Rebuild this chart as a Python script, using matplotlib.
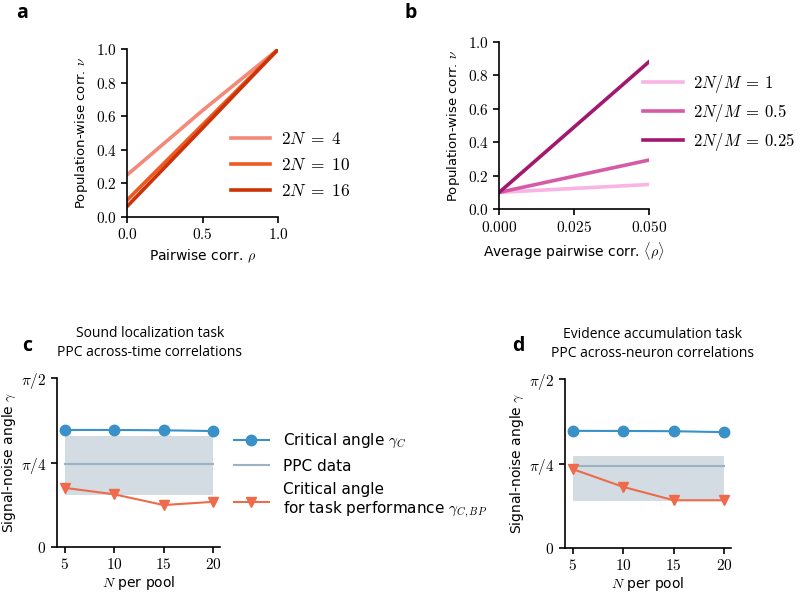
import numpy as np
import matplotlib
matplotlib.use("Agg")
import matplotlib.pyplot as plt

plt.rcParams["mathtext.fontset"] = "cm"
plt.rcParams["font.family"] = ["DejaVu Sans"]
plt.rcParams["axes.linewidth"] = 1.2

# panel a: population-wise vs pairwise correlation
rho_a = [0.0, 0.5, 1.0]
nu_2n4 = [0.25, 0.635, 1.0]
nu_2n10 = [0.10, 0.55, 1.0]
nu_2n16 = [0.0625, 0.53, 1.0]
labels_a = [r"$2N\;=\;4$", r"$2N\;=\;10$", r"$2N\;=\;16$"]
colors_a = ["#f4897a", "#ee5a24", "#cc3306"]

# panel b
rho_b = [0.0, 0.05]
nu_m1 = [0.10, 0.147]
nu_m05 = [0.10, 0.293]
nu_m025 = [0.10, 0.88]
labels_b = [r"$2N/M\:=\:1$", r"$2N/M\:=\:0.5$", r"$2N/M\:=\:0.25$"]
colors_b = ["#f8b4e4", "#d65aa6", "#a2186e"]

# panels c, d
n_pool = [5, 10, 15, 20]
crit_c = [1.088, 1.088, 1.085, 1.078]
task_c = [0.55, 0.49, 0.39, 0.42]
ppc_c, ppc_c_lo, ppc_c_hi = 0.769, 0.483, 1.032
crit_d = [1.089, 1.088, 1.086, 1.077]
task_d = [0.733, 0.568, 0.444, 0.444]
ppc_d, ppc_d_lo, ppc_d_hi = 0.763, 0.435, 0.854

blue = "#3a91c8"
grey = "#9eb2c4"
band = "#d2dce2"
orange = "#ee6a4a"

fig = plt.figure(figsize=(8, 5.94), dpi=100)


def style(ax):
    ax.spines["top"].set_visible(False)
    ax.spines["right"].set_visible(False)
    ax.tick_params(direction="out", length=4, width=1.2, labelsize=11)


lab_font = 10

# ---- a ----
ax1 = fig.add_axes([0.159, 0.635, 0.189, 0.2825])
for y, lab, c in zip([nu_2n4, nu_2n10, nu_2n16], labels_a, colors_a):
    ax1.plot(rho_a, y, color=c, lw=2.6, label=lab)
ax1.set_xlim(0, 1)
ax1.set_ylim(0, 1)
ax1.set_xticks([0, 0.5, 1.0])
ax1.set_xticklabels([r"$0.0$", r"$0.5$", r"$1.0$"])
ax1.set_yticks([0, 0.2, 0.4, 0.6, 0.8, 1.0])
ax1.set_yticklabels([r"$%.1f$" % v for v in [0, 0.2, 0.4, 0.6, 0.8, 1.0]])
ax1.set_xlabel(r"Pairwise corr. $\rho$", fontsize=lab_font)
ax1.set_ylabel(r"Population-wise corr. $\nu$", fontsize=9.5)
style(ax1)
ax1.legend(loc="center left", bbox_to_anchor=(0.58, 0.31), frameon=False,
           fontsize=12.5, handlelength=2.3, handletextpad=0.6, labelspacing=0.45)

# ---- b ----
ax2 = fig.add_axes([0.624, 0.648, 0.187, 0.2815])
for y, lab, c in zip([nu_m1, nu_m05, nu_m025], labels_b, colors_b):
    ax2.plot(rho_b, y, color=c, lw=2.6, label=lab)
ax2.set_xlim(0, 0.05)
ax2.set_ylim(0, 1)
ax2.set_xticks([0, 0.025, 0.05])
ax2.set_xticklabels([r"$0.000$", r"$0.025$", r"$0.050$"])
ax2.set_yticks([0, 0.2, 0.4, 0.6, 0.8, 1.0])
ax2.set_yticklabels([r"$%.1f$" % v for v in [0, 0.2, 0.4, 0.6, 0.8, 1.0]])
ax2.set_xlabel(r"Average pairwise corr. $\langle\rho\rangle$", fontsize=lab_font)
ax2.set_ylabel(r"Population-wise corr. $\nu$", fontsize=9.5)
style(ax2)
ax2.legend(loc="center left", bbox_to_anchor=(0.86, 0.575), frameon=False,
           fontsize=12, handlelength=2.4, handletextpad=0.6, labelspacing=0.42)


# ---- c, d ----
def angle_panel(ax, crit, task, ppc, lo, hi):
    ax.fill_between([n_pool[0], n_pool[-1]], lo, hi, color=band, lw=0)
    ax.plot(n_pool, crit, color=blue, marker="o", ms=7.5, lw=1.5,
            label=r"Critical angle $\gamma_C$")
    ax.plot([n_pool[0], n_pool[-1]], [ppc, ppc], color=grey, lw=1.5,
            label="PPC data")
    ax.plot(n_pool, task, color=orange, marker="v", ms=7.5, lw=1.5,
            label="Critical angle\nfor task performance $\\gamma_{C,BP}$")
    ax.set_xlim(4.2, 20.7)
    ax.set_ylim(0, np.pi / 2)
    ax.set_xticks(n_pool)
    ax.set_xticklabels([r"$%d$" % n for n in n_pool])
    ax.set_yticks([0, np.pi / 4, np.pi / 2])
    ax.set_yticklabels([r"$0$", r"$\pi/4$", r"$\pi/2$"])
    ax.set_xlabel(r"$N$ per pool", fontsize=lab_font, labelpad=1)
    ax.set_ylabel(r"Signal-noise angle $\gamma$", fontsize=lab_font, labelpad=2)
    style(ax)


ax3 = fig.add_axes([0.071, 0.0791, 0.204, 0.2845])
angle_panel(ax3, crit_c, task_c, ppc_c, ppc_c_lo, ppc_c_hi)
ax3.set_title("Sound localization task\nPPC across-time correlations",
              fontsize=10, family="Open Sans", pad=16, x=0.57, linespacing=1.35)
ax3.legend(loc="center left", bbox_to_anchor=(1.0, 0.42), frameon=False,
           fontsize=11, handlelength=2.3, handletextpad=0.9, labelspacing=0.55)

ax4 = fig.add_axes([0.706, 0.0774, 0.208, 0.2845])
angle_panel(ax4, crit_d, task_d, ppc_d, ppc_d_lo, ppc_d_hi)
ax4.set_title("Evidence accumulation task\nPPC across-neuron correlations",
              fontsize=10, family="Open Sans", pad=16, x=0.53, linespacing=1.35)

for lab, x, y in [("a", 0.02, 0.978), ("b", 0.505, 0.978),
                  ("c", 0.028, 0.418), ("d", 0.64, 0.418)]:
    fig.text(x, y, lab, fontsize=14, fontweight="bold", family="Open Sans",
             va="center")

fig.savefig("out.png", dpi=100)
